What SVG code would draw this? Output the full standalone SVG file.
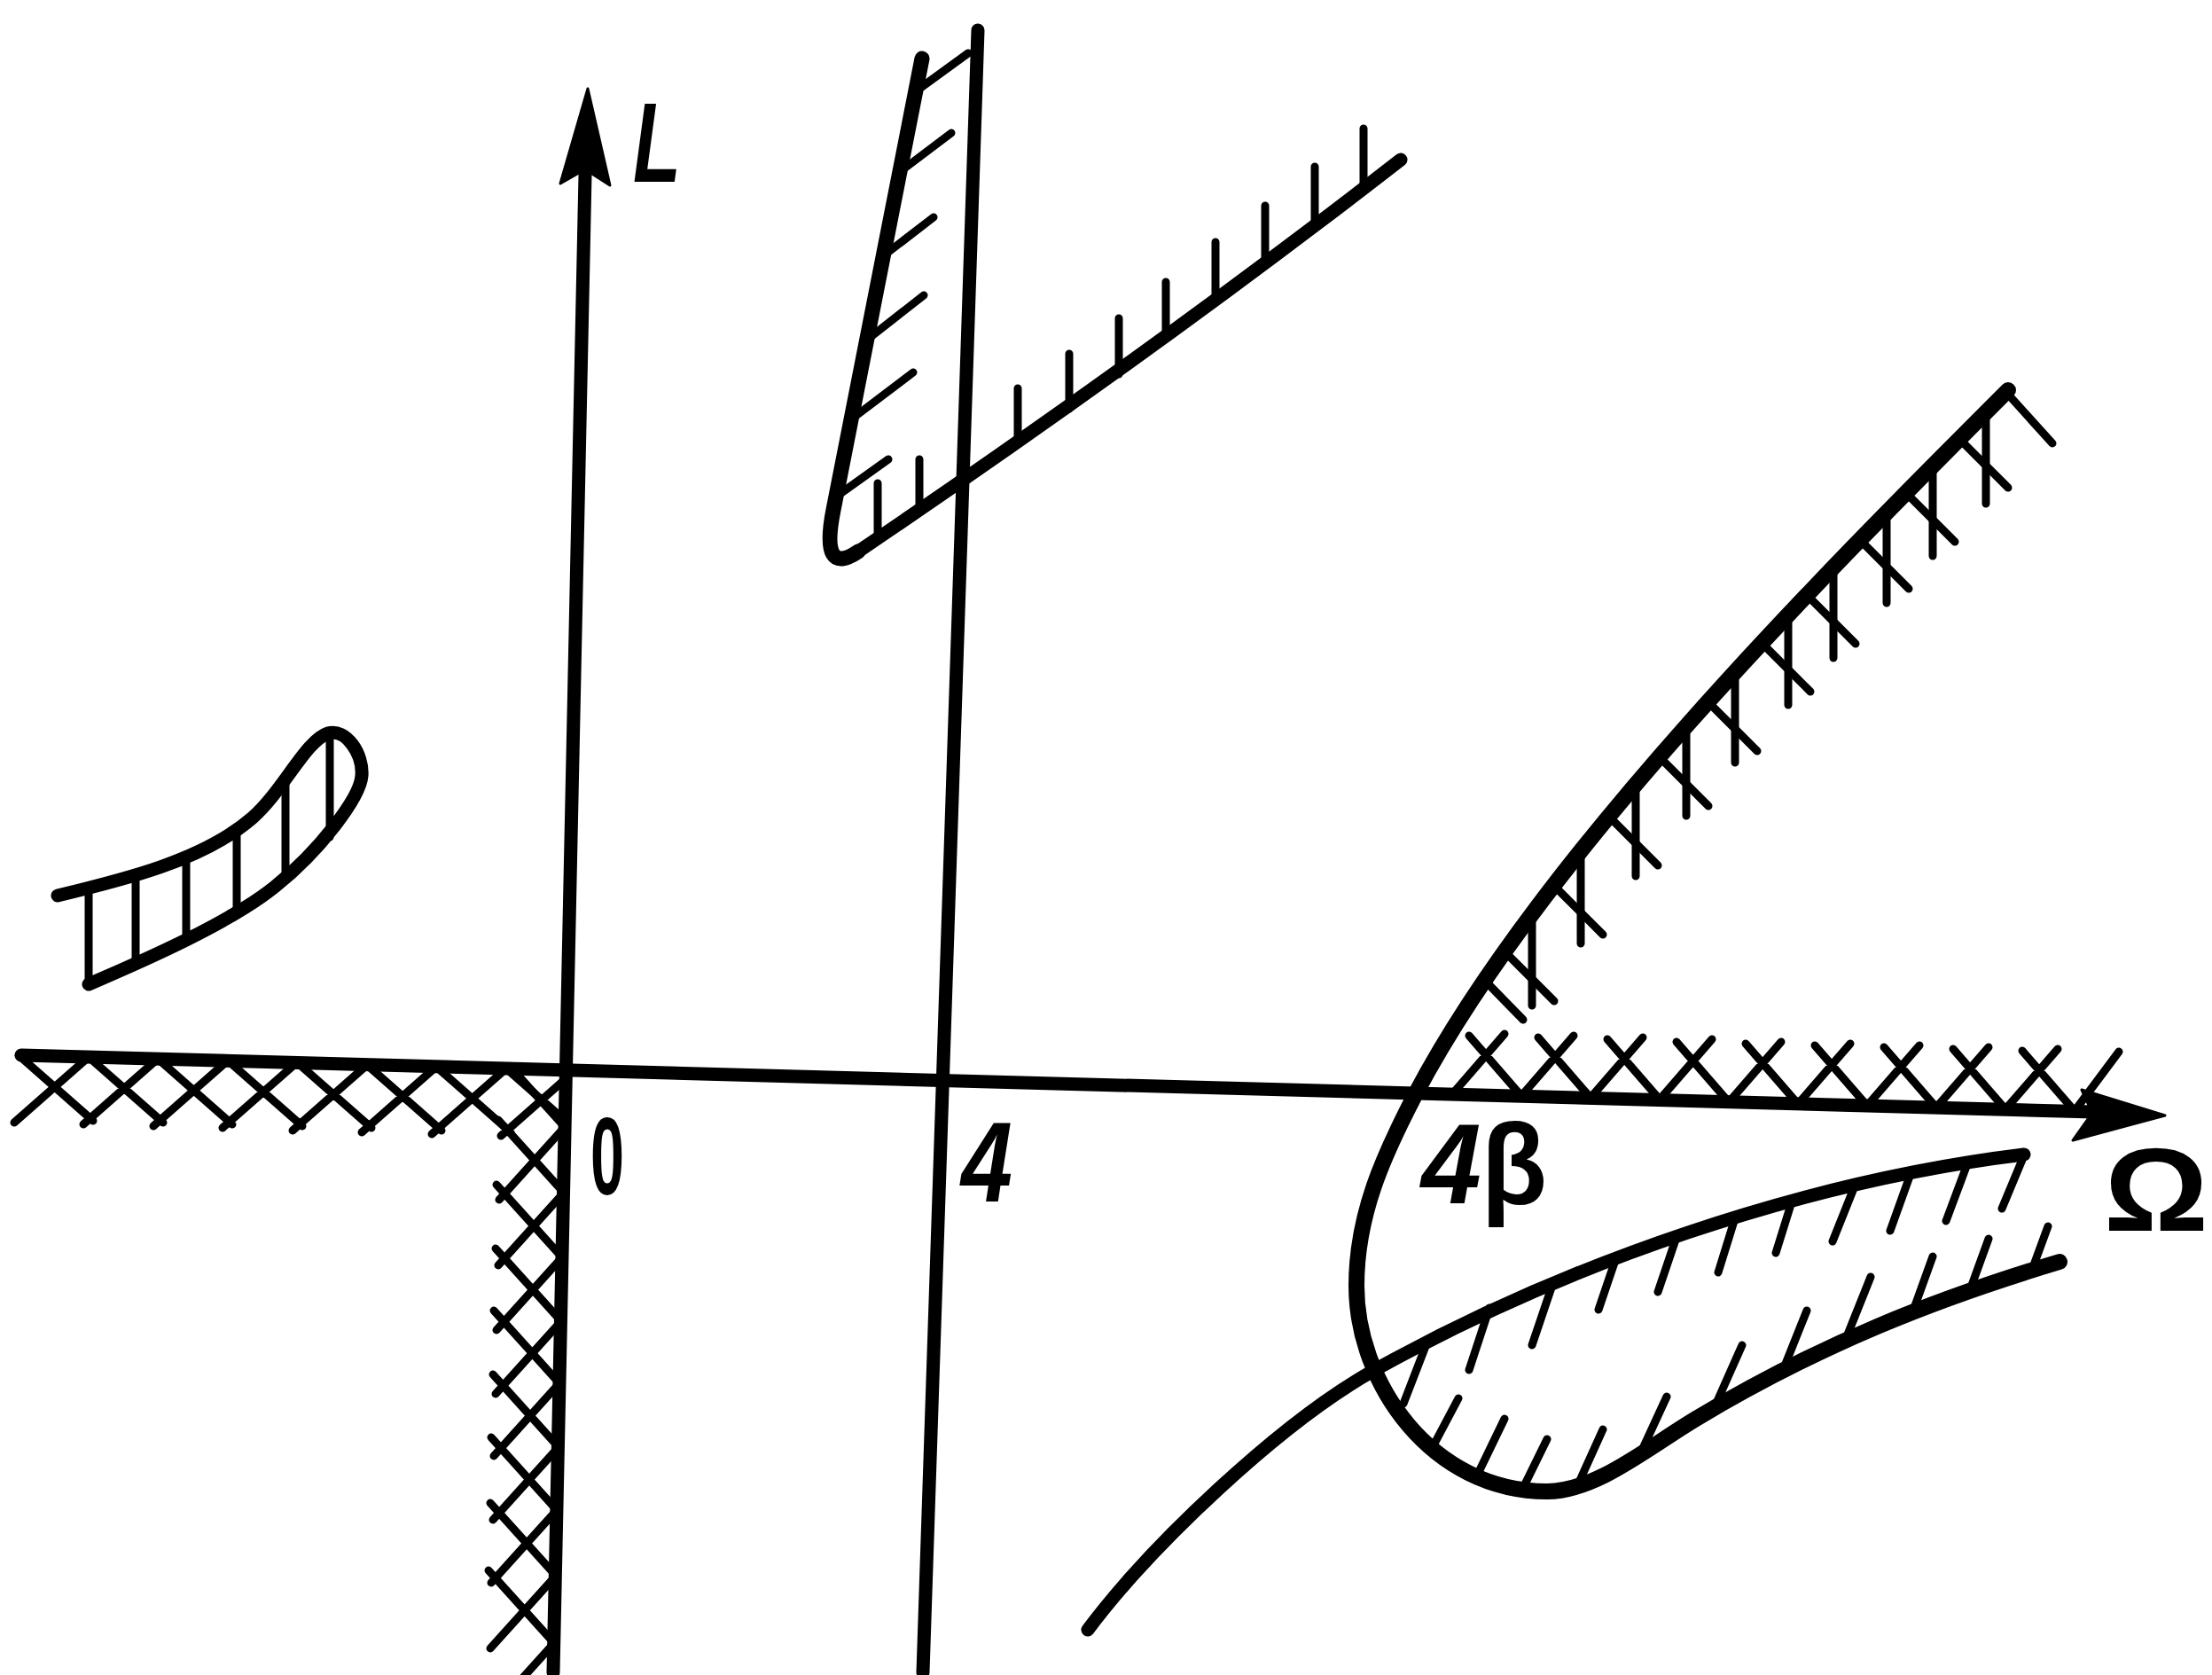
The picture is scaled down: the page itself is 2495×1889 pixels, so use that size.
<svg xmlns="http://www.w3.org/2000/svg" width="2495" height="1889" viewBox="0 0 2495 1889">
<style>
.ln{fill:none;stroke:#000;stroke-width:15;stroke-linecap:round;stroke-linejoin:round}
.tk{fill:none;stroke:#000;stroke-width:18;stroke-linecap:round;stroke-linejoin:round}
.h{fill:none;stroke:#000;stroke-width:9;stroke-linecap:round}
.lbl{font-family:"Liberation Sans",Arial,sans-serif;fill:#000;font-weight:bold}
</style>
<defs>
<clipPath id="q3"><polygon points="0,1189 639,1207 624,1889 0,1889"/></clipPath>
</defs>
<rect width="2495" height="1889" fill="#fff"/>

<g id="axes">
<line class="ln" x1="24" y1="1190" x2="2362" y2="1254"/>
<polygon points="2442,1258 2348,1229 2360,1255 2338,1286" fill="#000" stroke="#000" stroke-width="3" stroke-linejoin="round"/>
<line class="ln" x1="661" y1="150" x2="624" y2="1886"/>
<polygon points="663,100 632,207 660,191 688,209" fill="#000" stroke="#000" stroke-width="3" stroke-linejoin="round"/>
<line class="ln" x1="1103" y1="34" x2="1041" y2="1886"/>
</g>

<g id="crosshatch-left" clip-path="url(#q3)">
<path class="h" d="M21,1190 L105,1264 M100,1192 L184,1266 M100,1192 L16,1266 M178,1194 L262,1268 M178,1194 L94,1268 M257,1196 L341,1270 M257,1196 L173,1270 M335,1198 L419,1272 M335,1198 L251,1272 M414,1201 L498,1275 M414,1201 L330,1275 M492,1203 L576,1277 M492,1203 L408,1277 M571,1205 L655,1279 M571,1205 L487,1279 M649,1207 L565,1281"/>
<path class="h" d="M637,1271 L563,1353 M637,1271 L563,1189 M636,1345 L562,1427 M636,1345 L562,1263 M634,1418 L560,1500 M634,1418 L560,1336 M633,1490 L559,1572 M633,1490 L559,1408 M631,1560 L557,1642 M631,1560 L557,1478 M630,1632 L556,1714 M630,1632 L556,1550 M628,1703 L554,1785 M628,1703 L554,1621 M627,1777 L553,1859 M627,1777 L553,1695 M625,1853 L551,1935 M625,1853 L551,1771"/>
</g>

<g id="crosshatch-right">
<path class="h" d="M1638,1234 L1697,1166 M1716,1236 L1775,1168 M1716,1236 L1657,1168 M1794,1238 L1853,1170 M1794,1238 L1735,1170 M1872,1240 L1931,1172 M1872,1240 L1813,1172 M1950,1243 L2009,1175 M1950,1243 L1891,1175 M2028,1245 L2087,1177 M2028,1245 L1969,1177 M2106,1247 L2165,1179 M2106,1247 L2047,1179 M2184,1249 L2243,1181 M2184,1249 L2125,1181 M2262,1251 L2321,1183 M2262,1251 L2203,1183 M2340,1253 L2390,1186 M2340,1253 L2281,1185"/>
</g>

<g id="blob">
<path class="ln" d="M65,1010 C140,992 230,970 285,922 C320,891 345,835 370,827 C390,821 410,850 408,875 C406,900 360,960 310,1000 C260,1040 170,1080 100,1110"/>
<path class="h" d="M100,1003 L100,1110 M153,988 L153,1084 M210,970 L210,1060 M267,937 L267,1032 M322,882 L322,990 M372,830 L372,944"/>
</g>

<g id="wedge">
<path class="ln" style="stroke-width:17" d="M1040,66 L940,575 Q925,651 968,622"/>
<path class="ln" d="M968,622 C1200,465 1400,320 1580,180"/>
<path class="h" d="M1037,100 L1092,60 M1020,190 L1073,150 M1001,285 L1053,245 M982,380 L1042,333 M964,470 L1030,420 M946,558 L1002,518 M990,545 L990,606 M1037,518 L1037,576"/>
<path class="h" d="M1148,499 L1148,438 M1206,461 L1206,399 M1262,422 L1262,359 M1315,381 L1315,318 M1371,337 L1371,273 M1427,297 L1427,232 M1483,254 L1483,188 M1538,212 L1538,145"/>
</g>

<g id="loop">
<path class="tk" d="M2265,440 C2053,652 1737,968 1597,1233 C1560,1304 1530,1370 1530,1450 C1530,1560 1615,1682 1745,1682 C1800,1682 1858,1633 1913,1600 C2053,1516 2183,1465 2323,1423"/>
<path class="h" d="M1728,1031 L1728,1134 M1783,961 L1783,1064 M1845,886 L1845,988 M1902,819 L1902,920 M1957,758 L1957,860 M2017,693 L2017,795 M2068,640 L2068,742 M2128,578 L2128,680 M2180,525 L2180,627 M2240,465 L2240,568"/>
<path class="h" d="M1675,1106 L1718,1150 M1698,1074 L1753,1129 M1753,999 L1808,1054 M1815,921 L1870,976 M1872,854 L1927,909 M1927,792 L1982,847 M1987,725 L2042,780 M2038,671 L2093,726 M2098,609 L2153,664 M2150,556 L2205,611 M2210,495 L2265,550 M2268,448 L2315,500"/>
</g>

<g id="lower-curve">
<path class="ln" d="M1227,1838 C1299,1742 1443,1606 1547,1547 C1765,1425 2035,1332 2283,1302"/>
<path class="h" d="M1680,1475 L1657,1545 M1752,1446 L1728,1517 M1822,1421 L1803,1477 M1890,1398 L1870,1457 M1956,1377 L1938,1435 M2022,1352 L2003,1413 M2093,1335 L2067,1400 M2156,1321 L2132,1388 M2220,1310 L2195,1377 M2283,1303 L2258,1363"/>
<path class="h" d="M1583,1583 L1610,1513 M1618,1628 L1645,1577 M1668,1660 L1697,1600 M1718,1678 L1745,1623 M1780,1674 L1808,1612 M1850,1640 L1880,1575 M1933,1589 L1965,1517 M2012,1543 L2038,1478 M2082,1510 L2110,1440 M2158,1478 L2180,1417 M2222,1455 L2243,1397 M2292,1432 L2310,1383"/>
</g>

<g id="labels">
<text class="lbl" x="714" y="205" font-size="128" font-style="italic" textLength="54" lengthAdjust="spacingAndGlyphs">L</text>
<text class="lbl" x="666" y="1347" font-size="125" textLength="38" lengthAdjust="spacingAndGlyphs">0</text>
<text class="lbl" x="1084" y="1355" font-size="128" font-style="italic" textLength="58" lengthAdjust="spacingAndGlyphs">4</text>
<text class="lbl" x="1603" y="1357" font-size="128" textLength="142" lengthAdjust="spacingAndGlyphs"><tspan font-style="italic">4</tspan><tspan>β</tspan></text>
<text class="lbl" x="2373" y="1388" font-size="134" textLength="118" lengthAdjust="spacingAndGlyphs">Ω</text>
</g>
</svg>
